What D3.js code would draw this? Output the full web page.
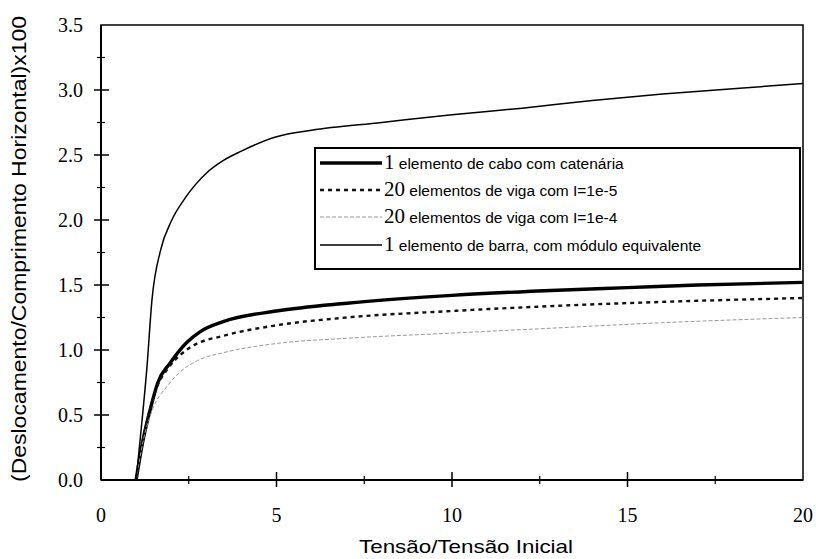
<!DOCTYPE html>
<html>
<head>
<meta charset="utf-8">
<script src="https://cdn.jsdelivr.net/npm/d3@7"></script>
<style>
  body { margin: 0; background: #fff; }
  svg { display: block; }
</style>
</head>
<body>
<svg id="chart"></svg>
<script>
// curves
const caboX = [1, 1.2, 1.4, 1.62, 1.97, 2.45, 2.82, 3.5, 5, 7, 10, 13, 15, 17, 20];
const caboY = [0, 0.31, 0.54, 0.75, 0.90, 1.06, 1.14, 1.22, 1.30, 1.36, 1.42, 1.46, 1.48, 1.50, 1.52];

const viga5X = [1, 1.25, 1.6, 1.91, 2.25, 2.6, 3.5, 5, 7, 10, 13, 16, 20];
const viga5Y = [0, 0.38, 0.72, 0.86, 0.96, 1.03, 1.11, 1.19, 1.25, 1.30, 1.34, 1.37, 1.40];

const viga4X = [1, 1.2, 1.48, 1.88, 2.25, 2.76, 3.5, 5, 7, 10, 13, 16, 20];
const viga4Y = [0, 0.30, 0.55, 0.72, 0.83, 0.92, 0.98, 1.05, 1.09, 1.13, 1.17, 1.21, 1.25];

const barraX = [1, 1.17, 1.31, 1.45, 1.7, 2.0, 2.4, 3.0, 3.5, 4, 5, 6, 8, 10, 12, 14, 16, 18, 20];
const barraY = [0, 0.46, 0.87, 1.38, 1.77, 1.99, 2.17, 2.36, 2.46, 2.53, 2.64, 2.69, 2.75, 2.81, 2.86, 2.92, 2.97, 3.01, 3.05];

const xTicks = [0, 5, 10, 15, 20];
const yTicks = [0, 0.5, 1.0, 1.5, 2.0, 2.5, 3.0, 3.5];

const legendNums = ["1", "20", "20", "1"];
const legendTexts = [
  " elemento de cabo com catenária",
  " elementos de viga com I=1e-5",
  " elementos de viga com I=1e-4",
  " elemento de barra, com módulo equivalente"
];

var width = 816, height = 559;
var plotLeft = 101, plotRight = 803, plotTop = 25, plotBottom = 480;

var svg = d3.select("#chart").attr("width", width).attr("height", height);

var x = d3.scaleLinear().domain([0, 20]).range([plotLeft, plotRight]);
var y = d3.scaleLinear().domain([0, 3.5]).range([plotBottom, plotTop]);

// series styles (same order as legend)
var styles = [
  { w: 3.4, dash: null, color: "#000" },
  { w: 2.4, dash: "4,4", color: "#111" },
  { w: 1, dash: "4,2", color: "#999" },
  { w: 1.5, dash: null, color: "#000" }
];

function zip(xs, ys) {
  return xs.map(function(d, i) { return [d, ys[i]]; });
}
var series = [zip(caboX, caboY), zip(viga5X, viga5Y), zip(viga4X, viga4Y), zip(barraX, barraY)];

// frame
svg.append("rect")
  .attr("x", plotLeft).attr("y", plotTop)
  .attr("width", plotRight - plotLeft).attr("height", plotBottom - plotTop)
  .attr("fill", "none").attr("stroke", "#000").attr("stroke-width", 1.5);

// ticks: major ones cross the axis, minor ones are short
var yMinor = d3.range(0.25, 3.5, 0.5);
var xMinor = d3.range(2.5, 20, 5);

svg.append("g").selectAll("line").data(yTicks.slice(1, -1)).enter().append("line")
  .attr("x1", plotLeft - 7).attr("x2", plotLeft + 8)
  .attr("y1", function(d) { return y(d); }).attr("y2", function(d) { return y(d); })
  .attr("stroke", "#000").attr("stroke-width", 1.5);
svg.append("g").selectAll("line").data(yMinor).enter().append("line")
  .attr("x1", plotLeft - 4).attr("x2", plotLeft + 4)
  .attr("y1", function(d) { return y(d); }).attr("y2", function(d) { return y(d); })
  .attr("stroke", "#000").attr("stroke-width", 1.2);
svg.append("g").selectAll("line").data(xTicks.slice(1, -1)).enter().append("line")
  .attr("x1", function(d) { return x(d); }).attr("x2", function(d) { return x(d); })
  .attr("y1", plotBottom - 8).attr("y2", plotBottom + 7)
  .attr("stroke", "#000").attr("stroke-width", 1.5);
svg.append("g").selectAll("line").data(xMinor).enter().append("line")
  .attr("x1", function(d) { return x(d); }).attr("x2", function(d) { return x(d); })
  .attr("y1", plotBottom - 4).attr("y2", plotBottom + 4)
  .attr("stroke", "#000").attr("stroke-width", 1.2);

// left and bottom axis lines a bit heavier
svg.append("line").attr("x1", plotLeft).attr("x2", plotLeft).attr("y1", plotTop).attr("y2", plotBottom)
  .attr("stroke", "#000").attr("stroke-width", 2);
svg.append("line").attr("x1", plotLeft).attr("x2", plotRight).attr("y1", plotBottom).attr("y2", plotBottom)
  .attr("stroke", "#000").attr("stroke-width", 2);

// tick labels
svg.append("g").selectAll("text").data(yTicks).enter().append("text")
  .attr("x", 83).attr("y", function(d) { return y(d) + 7; })
  .attr("text-anchor", "end")
  .style("font-family", "Liberation Serif").style("font-size", "20px")
  .text(function(d) { return d3.format(".1f")(d); });

svg.append("g").selectAll("text").data(xTicks).enter().append("text")
  .attr("x", function(d) { return x(d); }).attr("y", 522)
  .attr("text-anchor", "middle")
  .style("font-family", "Liberation Serif").style("font-size", "20px")
  .text(function(d) { return d; });

// axis titles
svg.append("text")
  .attr("x", 466).attr("y", 553)
  .attr("text-anchor", "middle")
  .attr("textLength", 214).attr("lengthAdjust", "spacingAndGlyphs")
  .style("font-family", "Liberation Sans").style("font-size", "19px")
  .text("Tensão/Tensão Inicial");

svg.append("text")
  .attr("transform", "translate(26,249) rotate(-90)")
  .attr("text-anchor", "middle")
  .attr("textLength", 466).attr("lengthAdjust", "spacingAndGlyphs")
  .style("font-family", "Liberation Sans").style("font-size", "20px")
  .text("(Deslocamento/Comprimento Horizontal)x100");

// curves
var line = d3.line()
  .x(function(d) { return x(d[0]); })
  .y(function(d) { return y(d[1]); })
  .curve(d3.curveMonotoneX);

svg.append("g").selectAll("path").data(series).enter().append("path")
  .attr("d", line)
  .attr("fill", "none")
  .attr("stroke", function(d, i) { return styles[i].color; })
  .attr("stroke-width", function(d, i) { return styles[i].w; })
  .attr("stroke-dasharray", function(d, i) { return styles[i].dash; });

// legend
var lg = svg.append("g");
lg.append("rect")
  .attr("x", 315).attr("y", 148).attr("width", 485).attr("height", 121)
  .attr("fill", "#fff").attr("stroke", "#000").attr("stroke-width", 2);

var rowY = [163, 190, 217, 245];
var rows = lg.selectAll("g.row").data(legendTexts).enter().append("g").attr("class", "row");
rows.append("line")
  .attr("x1", 320).attr("x2", 382)
  .attr("y1", function(d, i) { return rowY[i]; }).attr("y2", function(d, i) { return rowY[i]; })
  .attr("stroke", function(d, i) { return styles[i].color; })
  .attr("stroke-width", function(d, i) { return styles[i].w; })
  .attr("stroke-dasharray", function(d, i) { return styles[i].dash; });
var txt = rows.append("text")
  .attr("x", 384).attr("y", function(d, i) { return rowY[i] + 6; });
txt.append("tspan")
  .style("font-family", "Liberation Serif").style("font-size", "21px")
  .text(function(d, i) { return legendNums[i]; });
txt.append("tspan")
  .style("font-family", "Liberation Sans").style("font-size", "15.5px")
  .text(function(d) { return d; });
</script>
</body>
</html>
